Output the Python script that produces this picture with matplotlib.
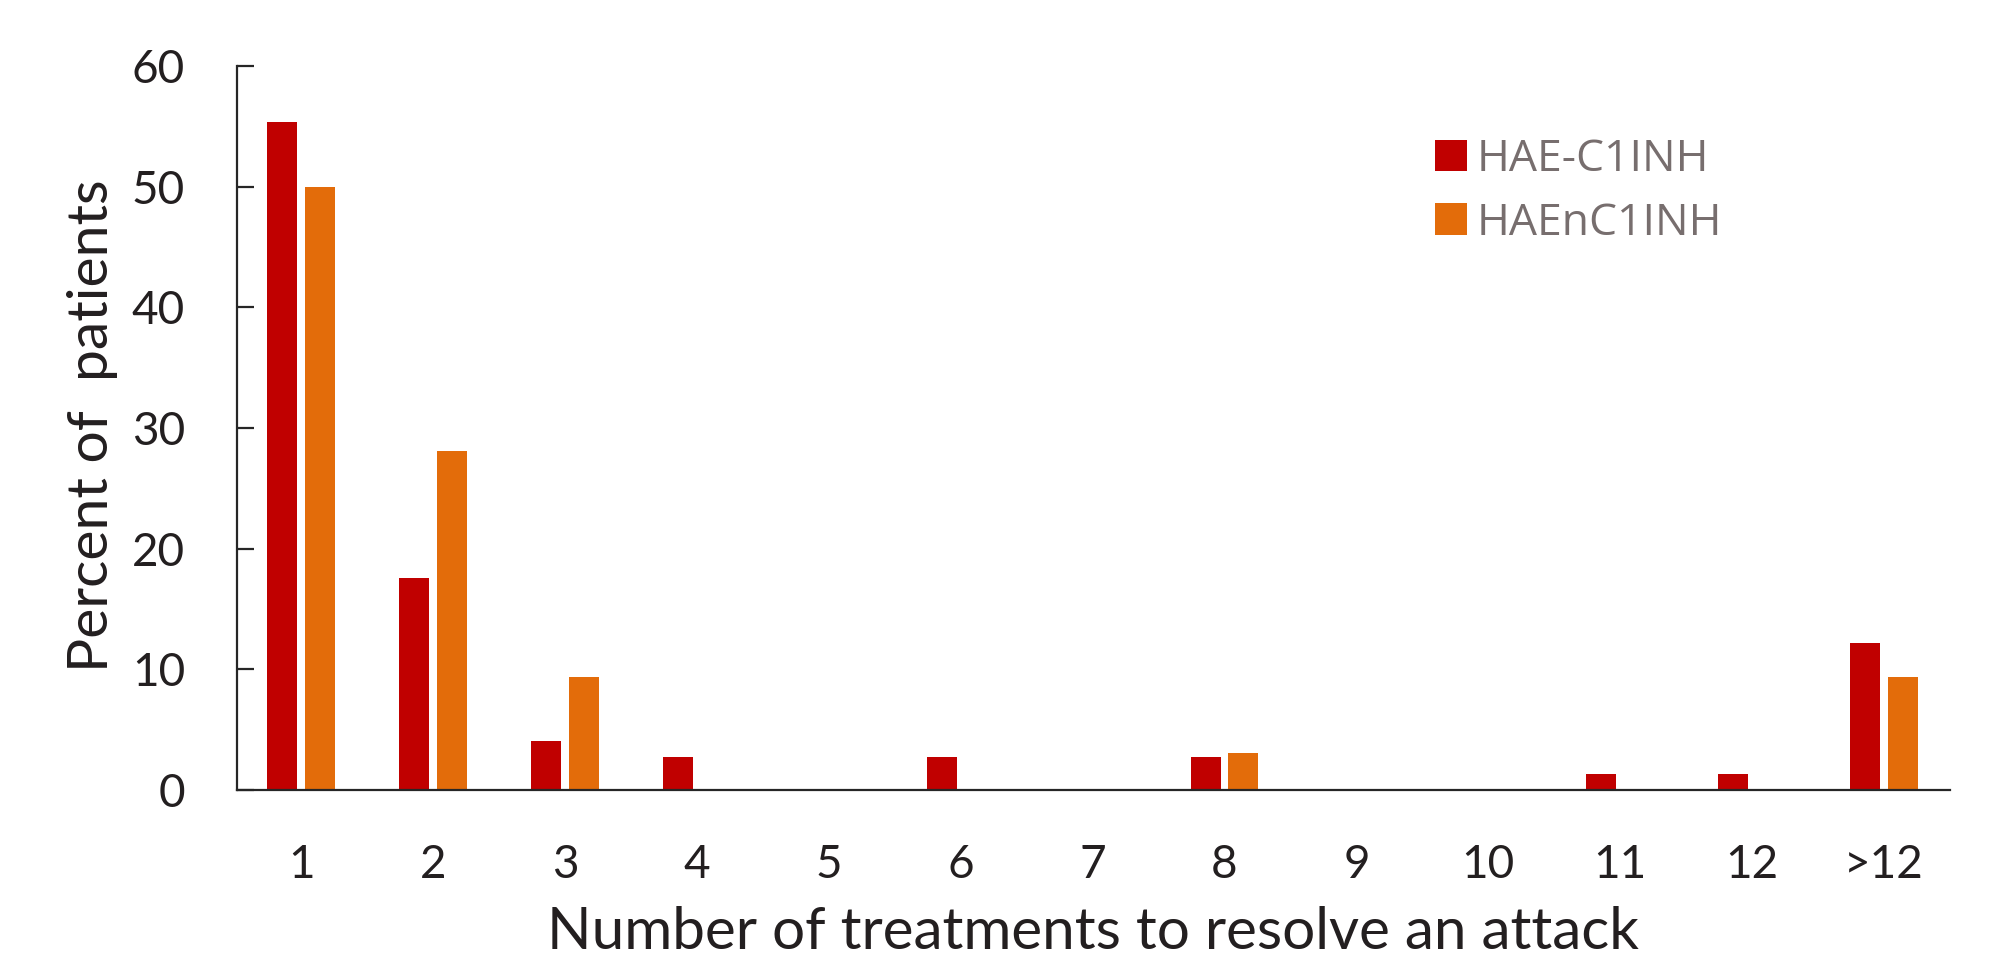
import matplotlib
matplotlib.use("Agg")
import matplotlib.pyplot as plt
import numpy as np

# Share of patients by number of treatments needed to resolve an attack
categories = ["1", "2", "3", "4", "5", "6", "7", "8", "9", "10", "11", "12", ">12"]
hae_c1inh = [55.4, 17.6, 4.1, 2.7, 0, 2.7, 0, 2.7, 0, 0, 1.35, 1.35, 12.2]
hae_nc1inh = [50.0, 28.1, 9.4, 0, 0, 0, 0, 3.1, 0, 0, 0, 0, 9.4]
series_names = ["HAE-C1INH", "HAEnC1INH"]
colors = ["#C00000", "#E36C0A"]

W, H, DPI = 1994, 961, 100
fig = plt.figure(figsize=(W / DPI, H / DPI), dpi=DPI)
ax = fig.add_axes([236.5 / W, 1 - 790 / H, (1950 - 236.5) / W, (790 - 66) / H])

x = np.arange(len(categories))
bw = 0.227
off = 0.143
ax.bar(x - off, hae_c1inh, width=bw, color=colors[0], label=series_names[0], zorder=2)
ax.bar(x + off, hae_nc1inh, width=bw, color=colors[1], label=series_names[1], zorder=2)

ax.set_xlim(-0.49, len(categories) - 0.5)
ax.set_ylim(0, 60)
ax.set_yticks(range(0, 61, 10))
ax.set_xticks(x)
ax.set_xticklabels(categories)

for s in ["top", "right"]:
    ax.spines[s].set_visible(False)
for s in ["left", "bottom"]:
    ax.spines[s].set_color("#262626")
    ax.spines[s].set_linewidth(1.6)

ax.tick_params(axis="y", direction="in", length=12, width=1.6, color="#262626", pad=37)
ax.tick_params(axis="x", length=0, pad=39)
for lab in ax.get_xticklabels() + ax.get_yticklabels():
    lab.set_fontfamily("Lato")
    lab.set_fontsize(33)
    lab.set_color("#231F20")

fig.text(108 / W, 1 - 426 / H, "Percent of  patients", rotation=90, rotation_mode="anchor",
         ha="center", va="baseline", family="Lato", fontsize=41, color="#231F20")
fig.text(1093 / W, 1 - 949 / H, "Number of treatments to resolve an attack", ha="center",
         va="baseline", family="Lato", fontsize=42, color="#231F20")

leg = ax.legend(loc="upper left", bbox_to_anchor=(1435 / W, 1 - 137.5 / H),
                bbox_transform=fig.transFigure, frameon=False, borderpad=0,
                borderaxespad=0, handlelength=0.72, handleheight=0.72,
                handletextpad=0.22, labelspacing=0.43,
                prop=dict(family="Open Sans", size=32))
for t in leg.get_texts():
    t.set_color("#776E6E")

fig.savefig("out.png", dpi=DPI)
